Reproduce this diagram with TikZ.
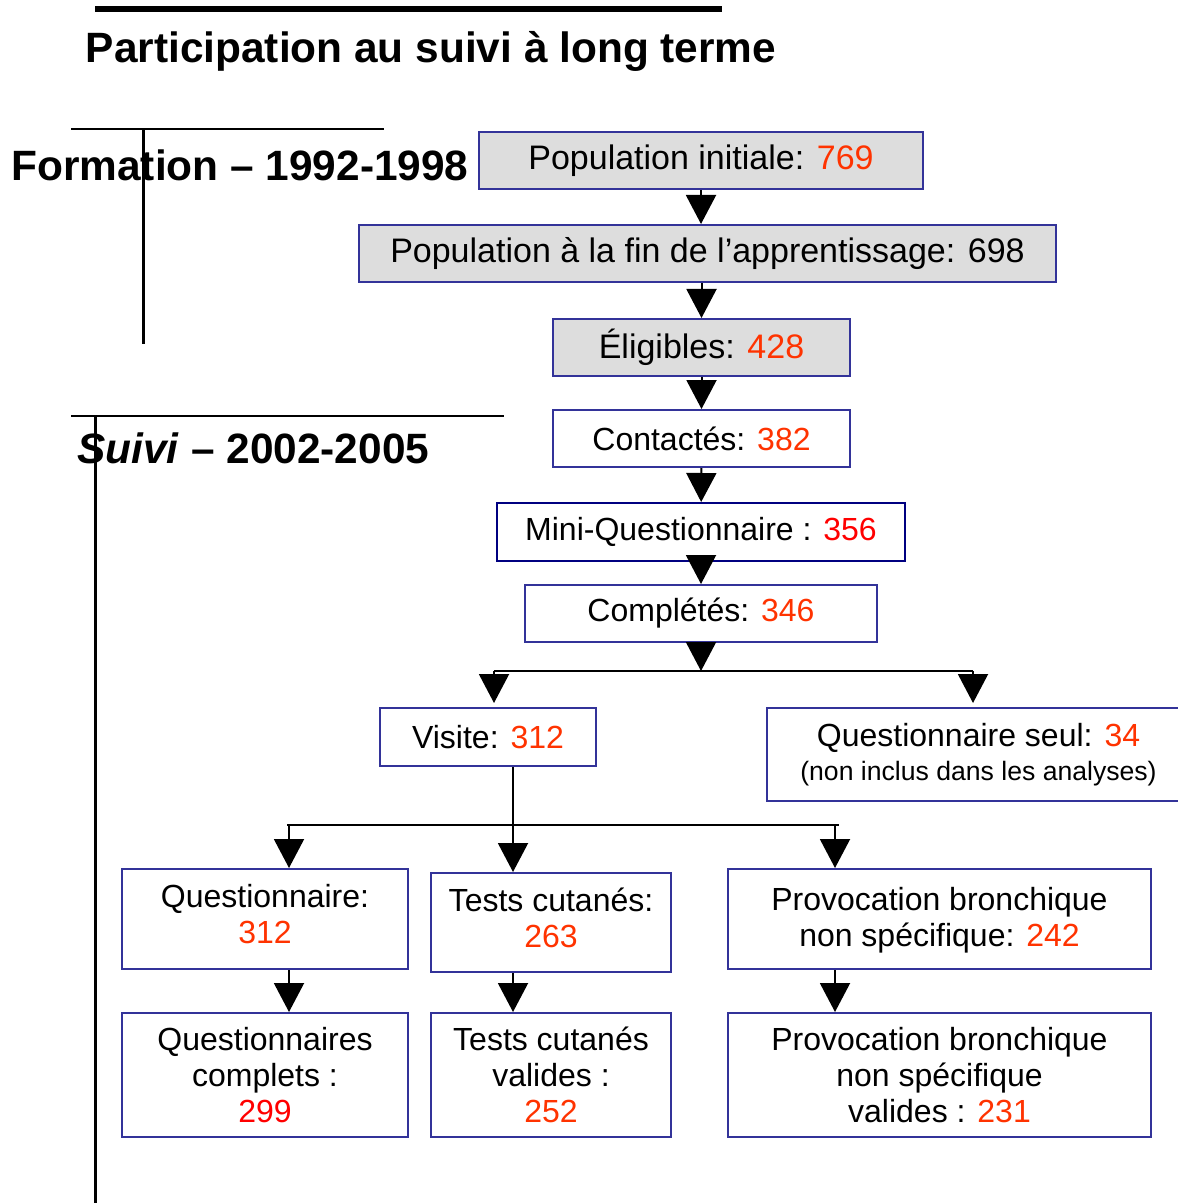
\documentclass[tikz,border=0pt]{standalone}
\usepackage{fontspec}
\setmainfont{Liberation Sans}
\usetikzlibrary{arrows.meta}
\definecolor{boxblue}{HTML}{333399}
\definecolor{boxnavy}{HTML}{000080}
\definecolor{boxgrey}{HTML}{DDDDDD}
\definecolor{numorange}{HTML}{FF3300}
\definecolor{numred}{HTML}{FF0000}
\newcommand{\nbo}[1]{\textcolor{numorange}{#1}}
\newcommand{\nbr}[1]{\textcolor{numred}{#1}}
\tikzset{
  greybox/.style={draw=boxblue, fill=boxgrey, line width=1pt, inner sep=0pt, align=center, font=\fontsize{17}{18}\selectfont},
  flowbox/.style={draw=boxblue, fill=white, line width=1pt, inner sep=0pt, align=center, font=\fontsize{16}{18}\selectfont},
  arr/.style={-{Triangle[width=15pt,length=14.5pt]}, line width=1pt},
  heading/.style={inner sep=0pt, anchor=base west, font=\fontsize{21.2}{25}\selectfont\bfseries},
}

\begin{document}
\begin{tikzpicture}[x=0.5pt,y=-0.5pt]
\useasboundingbox (0,0) rectangle (1177,1203);
% titre et periodes
\draw[line width=3pt] (95,9) -- (722,9);
\node[heading, anchor=base] (titre) at (431,63) {Participation au suivi à long terme};
\draw[line width=1pt] (71,129) -- (384,129);
\draw[line width=1.5pt] (143,129) -- (143,344);
\node[heading] (formation) at (11,181) {Formation – 1992-1998};
\draw[line width=1pt] (71,416) -- (504,416);
\draw[line width=1.5pt] (95,416) -- (95,1203);
\node[heading] (suivi) at (77,463) {\textit{Suivi} – 2002-2005};
% boites
\node[greybox, minimum width=222pt, minimum height=28.5pt] (init) at (701,160.5) {Population initiale: \nbo{769}};
\node[greybox, minimum width=348.5pt, minimum height=28.5pt] (fin) at (707.5,253.5) {Population à la fin de l’apprentissage: 698};
\node[greybox, minimum width=148.5pt, minimum height=28.5pt] (elig) at (701.5,347.5) {Éligibles: \nbo{428}};
\node[flowbox, minimum width=148.5pt, minimum height=28.5pt] (contact) at (701.5,438.5) {Contactés: \nbo{382}};
\node[flowbox, draw=boxnavy, minimum width=204pt, minimum height=29pt] (mini) at (701,532) {Mini-Questionnaire : \nbr{356}};
\node[flowbox, minimum width=176pt, minimum height=28.5pt] (compl) at (701,613.5) {Complétés: \nbo{346}};
\node[flowbox, minimum width=108pt, minimum height=29pt] (visite) at (488,737) {Visite: \nbo{312}};
\node[flowbox, minimum width=211.5pt, minimum height=46.5pt] (seul) at (978.5,754.5) {Questionnaire seul: \nbo{34}\\[-1pt]{\fontsize{13.3}{15}\selectfont (non inclus dans les analyses)}};
\node[flowbox, minimum width=143pt, minimum height=50pt, text depth=5pt] (quest) at (265,919) {Questionnaire:\\\nbo{312}};
\node[flowbox, minimum width=120pt, minimum height=49.5pt, text depth=5pt] (tests) at (551,922.5) {Tests cutanés:\\\nbo{263}};
\node[flowbox, minimum width=211.5pt, minimum height=50pt, text depth=2pt] (provoc) at (939.5,919) {Provocation bronchique\\non spécifique: \nbo{242}};
\node[flowbox, minimum width=143pt, minimum height=62pt] (questv) at (265,1075) {Questionnaires\\complets :\\\nbr{299}};
\node[flowbox, minimum width=120pt, minimum height=62pt] (testsv) at (551,1075) {Tests cutanés\\valides :\\\nbo{252}};
\node[flowbox, minimum width=211.5pt, minimum height=62pt] (provocv) at (939.5,1075) {Provocation bronchique\\non spécifique\\valides : \nbo{231}};
% fleches
\draw[arr] (init.south) -- (init.south |- fin.north);
\draw[arr] (elig.north |- fin.south) -- (elig.north);
\draw[arr] (elig) -- (contact);
\draw[arr] (contact) -- (mini);
\draw[arr] (mini) -- (compl);
\coordinate (split) at (701,671);
\coordinate (splitL) at (494,671);
\coordinate (splitR) at (973,671);
\draw[arr] (compl.south) -- (split);
\draw[line width=1pt] (splitL) -- (splitR);
\draw[arr, shorten >=2pt] (splitL) -- (splitL |- visite.north);
\draw[arr, shorten >=2pt] (splitR) -- (splitR |- seul.north);
\coordinate (branchA) at (289,825);
\coordinate (branchB) at (513,825);
\coordinate (branchC) at (835,825);
\draw[line width=1pt] (branchB |- visite.south) -- (branchB);
\draw[line width=1pt] (287,825) -- (839,825);
\draw[arr] (branchA) -- (branchA |- quest.north);
\draw[arr] (branchB) -- (branchB |- tests.north);
\draw[arr] (branchC) -- (branchC |- provoc.north);
\draw[arr] (branchA |- quest.south) -- (branchA |- questv.north);
\draw[arr] (branchB |- tests.south) -- (branchB |- testsv.north);
\draw[arr] (branchC |- provoc.south) -- (branchC |- provocv.north);
\end{tikzpicture}
\end{document}
